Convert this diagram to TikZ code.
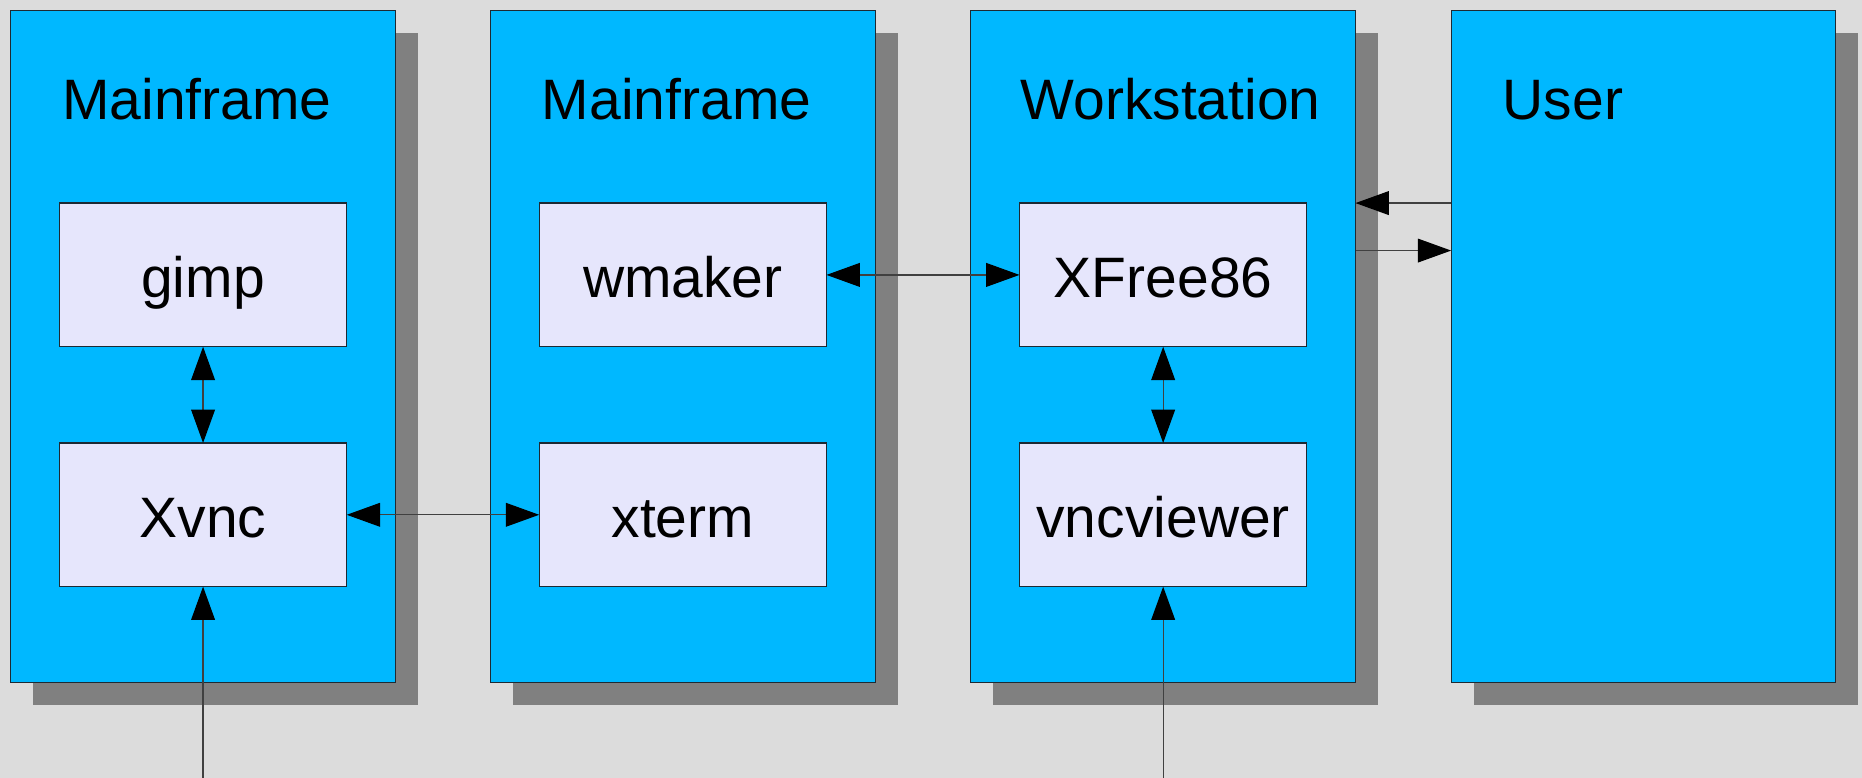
\documentclass[tikz,border=0pt]{standalone}
\usepackage{fontspec}
\setmainfont{Liberation Sans}
\usetikzlibrary{arrows.meta,shadows}
\definecolor{bg}{HTML}{DCDCDC}
\definecolor{bluebox}{HTML}{00B8FF}
\definecolor{lav}{HTML}{E6E6FC}
\definecolor{shad}{HTML}{808080}
\definecolor{edge}{HTML}{1E2A33}
\tikzset{
  bigbox/.style={draw=edge, line width=0.5pt, fill=bluebox, minimum width=162pt, minimum height=283pt, inner sep=0pt, outer sep=0pt,
    drop shadow={shadow xshift=9.5pt, shadow yshift=-9.5pt, fill=shad, opacity=1}},
  prog/.style={draw=edge, line width=0.5pt, fill=lav, minimum width=121pt, minimum height=60.5pt, inner sep=0pt, outer sep=0pt,
    text height=19pt, text depth=0pt, font=\fontsize{24}{28}\selectfont},
  title/.style={anchor=base west, inner sep=0pt, font=\fontsize{24}{28}\selectfont},
  conn/.style={draw=black!75, line width=0.5pt, >={Triangle[length=14pt,width=10pt,color=black]}},
}
\begin{document}
\begin{tikzpicture}[x=0.5pt,y=-0.5pt]
\fill[bg] (0,0) rectangle (1568,655);
\useasboundingbox (0,0) rectangle (1568,655);
% big boxes
\node[bigbox] (m1) at (171,292) {};
\node[bigbox] (m2) at (575,292) {};
\node[bigbox] (ws) at (979.5,292) {};
\node[bigbox] (us) at (1384,292) {};
% titles
\node[title] (t1) at (52,101) {Mainframe};
\node[title] (t2) at (456,101) {Mainframe};
\node[title] (t3) at (859,101) {Workstation};
\node[title] (t4) at (1265,101) {User};
% programs
\node[prog] (gimp) at (171,231.5) {gimp};
\node[prog] (xvnc) at (171,433.5) {Xvnc};
\node[prog] (wmaker) at (575,231.5) {wmaker};
\node[prog] (xterm) at (575,433.5) {xterm};
\node[prog] (xfree) at (979.5,231.5) {XFree86};
\node[prog] (vnc) at (979.5,433.5) {vncviewer};
% free ends
\coordinate (b1) at (171,655);
\coordinate (b2) at (979.5,655);
\coordinate (ya) at (0,171);
\coordinate (yb) at (0,211);
% connectors
\draw[conn,<->] (gimp) -- (xvnc);
\draw[conn,<->] (xvnc) -- (xterm);
\draw[conn,<->] (wmaker) -- (xfree);
\draw[conn,<->] (xfree) -- (vnc);
\draw[conn,->] (b1) -- (xvnc);
\draw[conn,->] (b2) -- (vnc);
\draw[conn,->] (us.west |- ya) -- (ws.east |- ya);
\draw[conn,->] (ws.east |- yb) -- (us.west |- yb);
\end{tikzpicture}
\end{document}
